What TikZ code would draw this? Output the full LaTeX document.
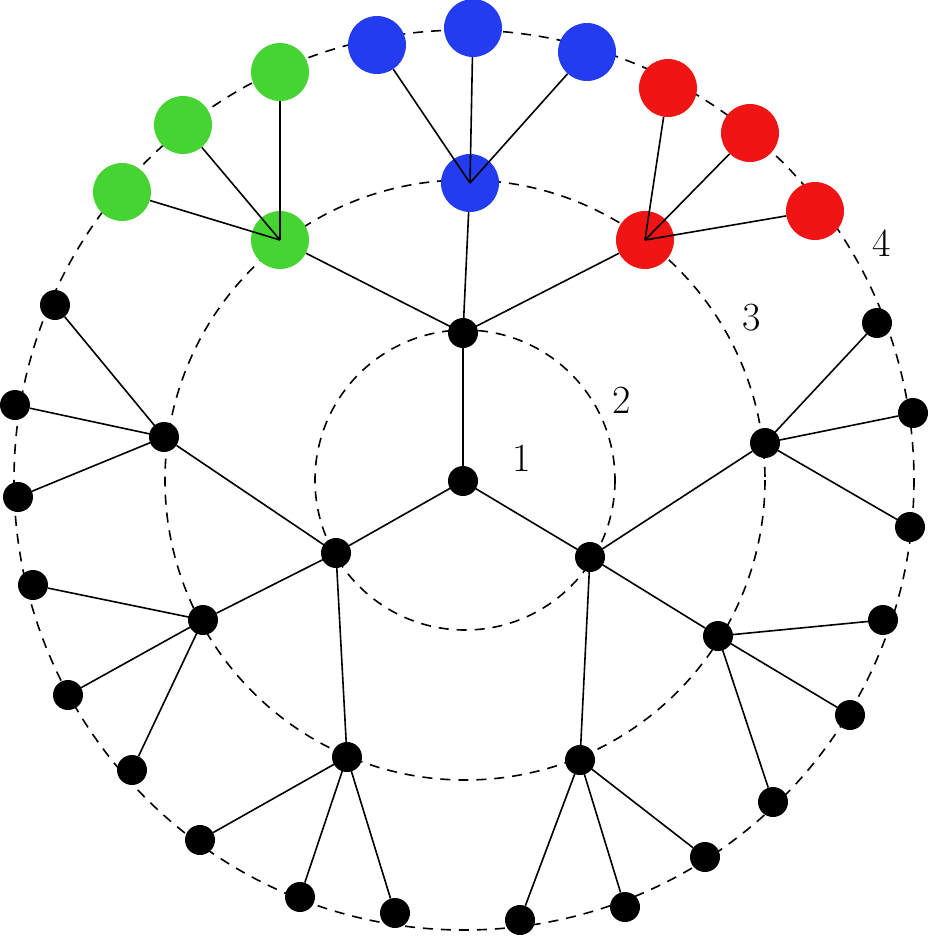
\documentclass[tikz,border=0pt]{standalone}
\begin{document}
\begin{tikzpicture}[x=1pt,y=-1pt,
 dot/.style={circle,fill=black,inner sep=0pt,minimum size=30pt},
 big/.style={circle,inner sep=0pt,minimum size=58pt},
 gr/.style={big,fill={rgb,255:red,70;green,212;blue,50}},
 bl/.style={big,fill={rgb,255:red,35;green,60;blue,240}},
 rd/.style={big,fill={rgb,255:red,240;green,20;blue,20}},
 edge/.style={line width=1.6pt},
 ring/.style={line width=1.6pt,dash pattern=on 10pt off 8pt},
 lab/.style={font=\fontsize{40}{40}\selectfont}]
\useasboundingbox (0,0) rectangle (928,938);
\draw[ring] (465,480) circle (150);
\draw[ring] (465,480) circle (300);
\draw[ring] (464,480) circle (450);
\node[dot] (c) at (463,481) {};
\node[dot] (t) at (463,333) {};
\node[dot] (l) at (336,553) {};
\node[dot] (r) at (590,557) {};
\node[gr] (g) at (280,240) {};
\node[bl] (b) at (470,183) {};
\node[rd] (e) at (645,240) {};
\node[dot] (l1) at (164,437) {};
\node[dot] (l2) at (203,620) {};
\node[dot] (l3) at (347,757) {};
\node[dot] (r1) at (765,443) {};
\node[dot] (r2) at (718,636) {};
\node[dot] (r3) at (580,760) {};
\node[gr] (g1) at (280,72) {};
\node[gr] (g2) at (183,125) {};
\node[gr] (g3) at (122,192) {};
\node[bl] (b1) at (377,45) {};
\node[bl] (b2) at (473,28) {};
\node[bl] (b3) at (587,52) {};
\node[rd] (e1) at (668,88) {};
\node[rd] (e2) at (750,133) {};
\node[rd] (e3) at (815,211) {};
\node[dot] (a1) at (55,305) {};
\node[dot] (a2) at (15,405) {};
\node[dot] (a3) at (18,497) {};
\node[dot] (d1) at (33,585) {};
\node[dot] (d2) at (68,695) {};
\node[dot] (d3) at (132,770) {};
\node[dot] (f1) at (200,840) {};
\node[dot] (f2) at (300,897) {};
\node[dot] (f3) at (395,913) {};
\node[dot] (h1) at (520,920) {};
\node[dot] (h2) at (625,907) {};
\node[dot] (h3) at (705,857) {};
\node[dot] (k1) at (883,620) {};
\node[dot] (k2) at (850,715) {};
\node[dot] (k3) at (773,802) {};
\node[dot] (m1) at (877,323) {};
\node[dot] (m2) at (913,413) {};
\node[dot] (m3) at (910,527) {};
\begin{scope}[on background layer/.style={}]
\end{scope}
\foreach \p/\q in {c/t,c/l,c/r,t/g,t/b,t/e,l/l1,l/l2,l/l3,r/r1,r/r2,r/r3,
 g/g1,g/g2,g/g3,b/b1,b/b2,b/b3,e/e1,e/e2,e/e3,l1/a1,l1/a2,l1/a3,l2/d1,l2/d2,l2/d3,
 l3/f1,l3/f2,l3/f3,r3/h1,r3/h2,r3/h3,r2/k1,r2/k2,r2/k3,r1/m1,r1/m2,r1/m3}
 \draw[edge] (\p.center) -- (\q);
\node[lab] at (522,458) {1};
\node[lab] at (622,400) {2};
\node[lab] at (752,318) {3};
\node[lab] at (882,243) {4};
\end{tikzpicture}
\end{document}
